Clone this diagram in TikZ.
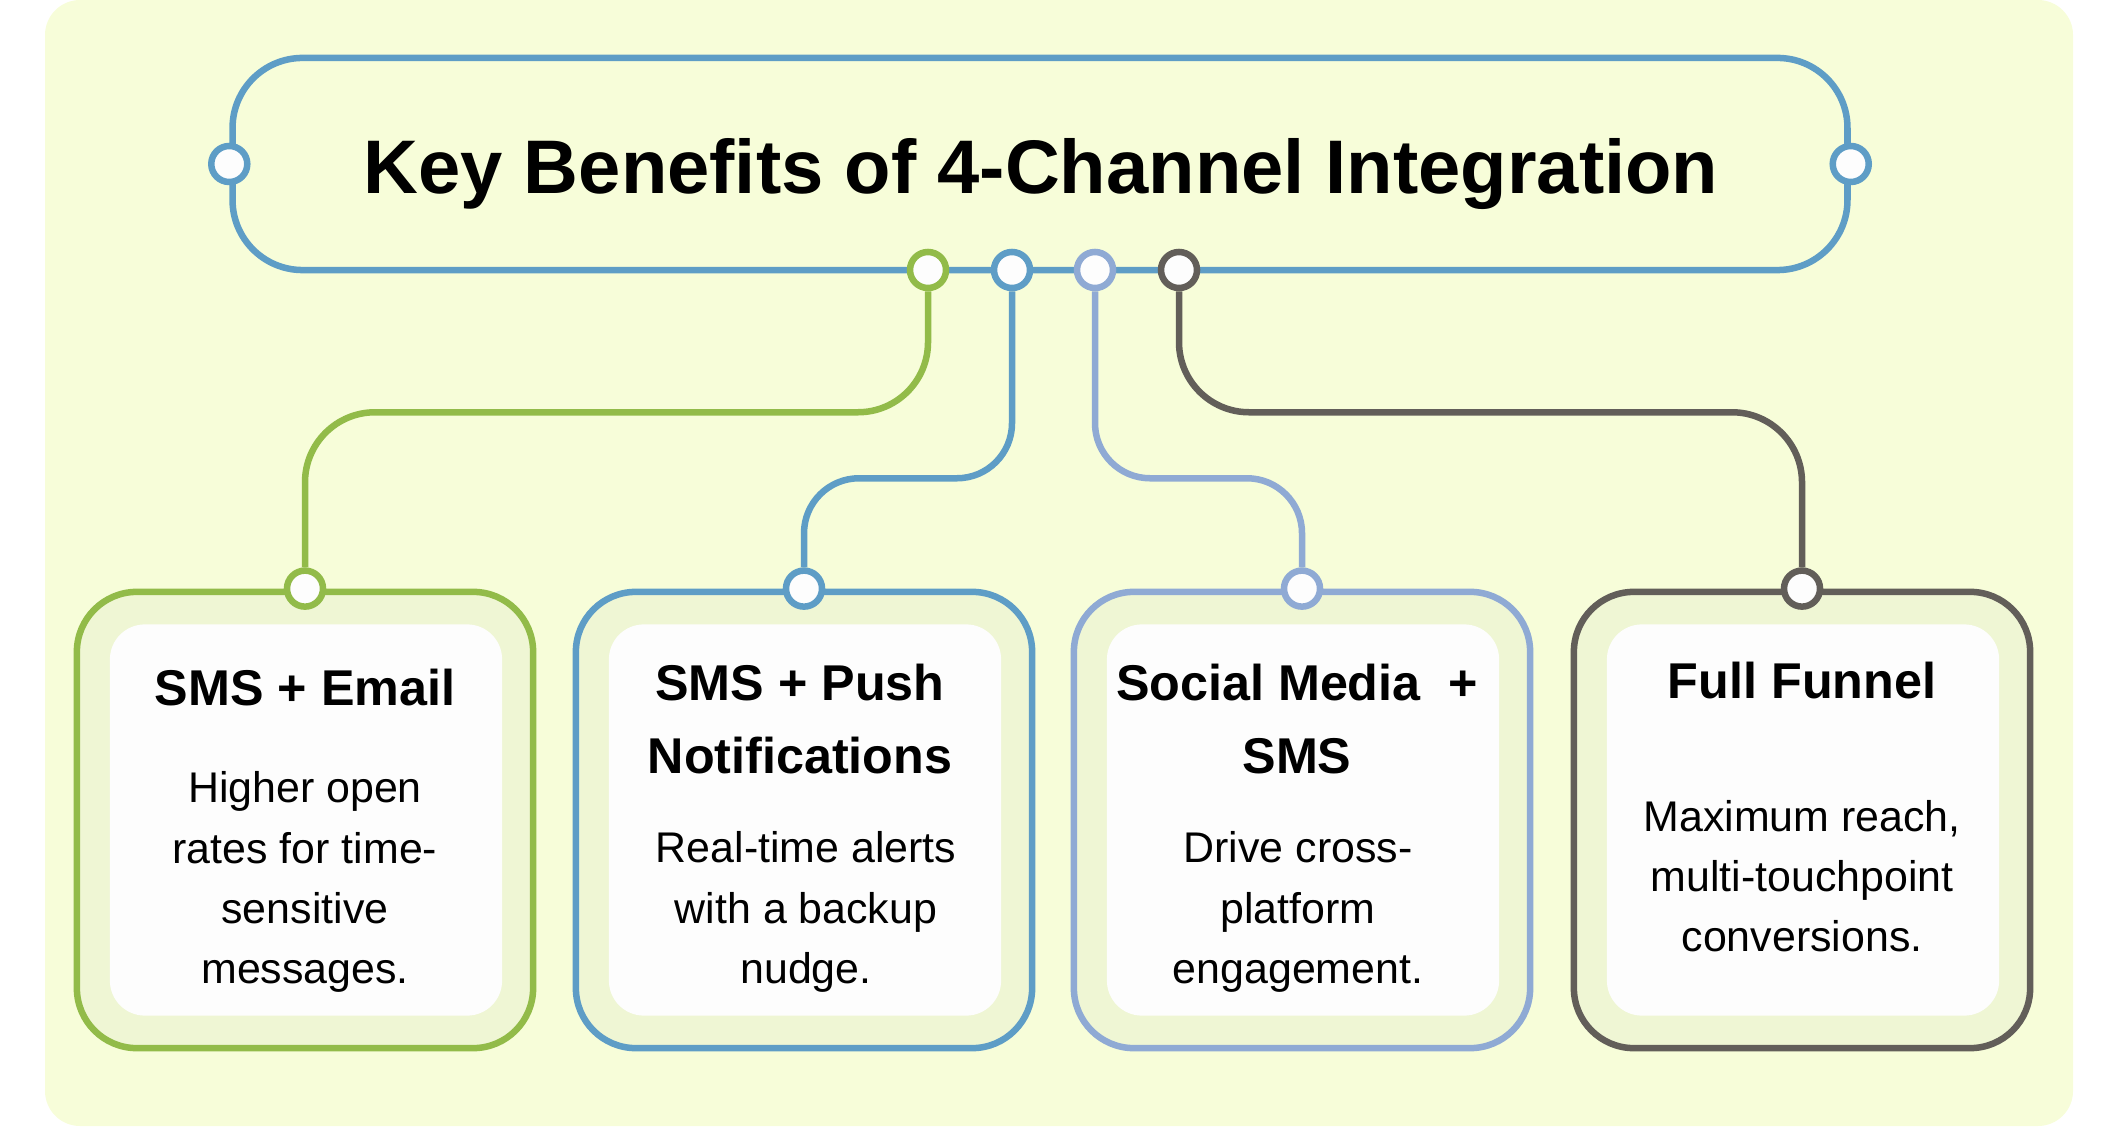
\documentclass[tikz,border=0pt]{standalone}
\usepackage{fontspec}
\setmainfont{Liberation Sans}
\usetikzlibrary{positioning,calc}
\definecolor{bgyel}{HTML}{F7FDD9}
\definecolor{bandcol}{HTML}{EFF6D4}
\definecolor{cardwhite}{HTML}{FDFDFD}
\definecolor{cgreen}{HTML}{92BB49}
\definecolor{cblue}{HTML}{5E9DC6}
\definecolor{clight}{HTML}{8FAAD4}
\definecolor{cgray}{HTML}{625E59}

\begin{document}
\begin{tikzpicture}[x=0.01cm, y=-0.01cm,
    port/.style={circle, draw=#1, line width=0.065cm, fill=cardwhite, minimum size=0.36cm, inner sep=0pt},
    card/.style={draw=#1, line width=0.065cm, fill=bandcol, rounded corners=0.6cm, minimum width=4.56cm, minimum height=4.56cm},
    cardin/.style={fill=cardwhite, rounded corners=0.35cm, minimum width=3.92cm, minimum height=3.91cm},
    head/.style={font=\fontsize{14.3}{20.5}\selectfont\bfseries, align=center},
    body/.style={font=\fontsize{12.2}{17.1}\selectfont, align=center},
    link/.style={draw=#1, line width=0.065cm}]

    \useasboundingbox (0,0) rectangle (2128,1128);
    \fill[bgyel, rounded corners=0.35cm] (45,0) rectangle (2073,1126);

    % Title
    \node[draw=cblue, line width=0.065cm, rounded corners=0.7cm, minimum width=16.14cm, minimum height=2.12cm] (titlebox) at (1040,164) {};
    \node[font=\fontsize{21.6}{26}\selectfont\bfseries] (title) at (1041,174) {Key Benefits of 4-Channel Integration};
    \node[port=cblue] (pl) at (titlebox.west) {};
    \node[port=cblue] (pr) at (titlebox.east) {};

    % Cards
    \node[card=cgreen] (c1) at (305,820) {};
    \node[card=cblue] (c2) at (804,820) {};
    \node[card=clight] (c3) at (1302,820) {};
    \node[card=cgray] (c4) at (1802,820) {};
    \node[cardin] (i1) at (306,820) {};
    \node[cardin] (i2) at (805,820) {};
    \node[cardin] (i3) at (1303,820) {};
    \node[cardin] (i4) at (1803,820) {};

    % Ports
    \node[port=cgreen] (t1) at (928,270) {};
    \node[port=cblue] (t2) at (1012,270) {};
    \node[port=clight] (t3) at (1095,270) {};
    \node[port=cgray] (t4) at (1179,270) {};
    \node[port=cgreen] (p1) at (c1.north) {};
    \node[port=cblue] (p2) at (c2.north) {};
    \node[port=clight] (p3) at (c3.north) {};
    \node[port=cgray] (p4) at (c4.north) {};

    % Links
    \draw[link=cgreen, rounded corners=0.7cm] (t1.south) -- ++(0,121) -| (p1.north);
    \draw[link=cblue, rounded corners=0.55cm] (t2.south) -- ++(0,187) -| (p2.north);
    \draw[link=clight, rounded corners=0.55cm] (t3.south) -- ++(0,187) -| (p3.north);
    \draw[link=cgray, rounded corners=0.7cm] (t4.south) -- ++(0,121) -| (p4.north);

    % Texts
    \node[head] (h1) at (305,688) {SMS + Email};
    \node[body] (d1) at (305,882) {Higher open\\rates for time-\\sensitive\\messages.};
    \node[head] (h2) at (800,719) {SMS + Push\\Notifications};
    \node[body] (d2) at (806,912) {Real-time alerts\\with a backup\\nudge.};
    \node[head] (h3) at (1297,719) {Social Media\ \ +\\SMS};
    \node[body] (d3) at (1298,912) {Drive cross-\\platform\\engagement.};
    \node[head] (h4) at (1802,681) {Full Funnel};
    \node[body] (d4) at (1802,876) {Maximum reach,\\multi-touchpoint\\conversions.};
\end{tikzpicture}
\end{document}
